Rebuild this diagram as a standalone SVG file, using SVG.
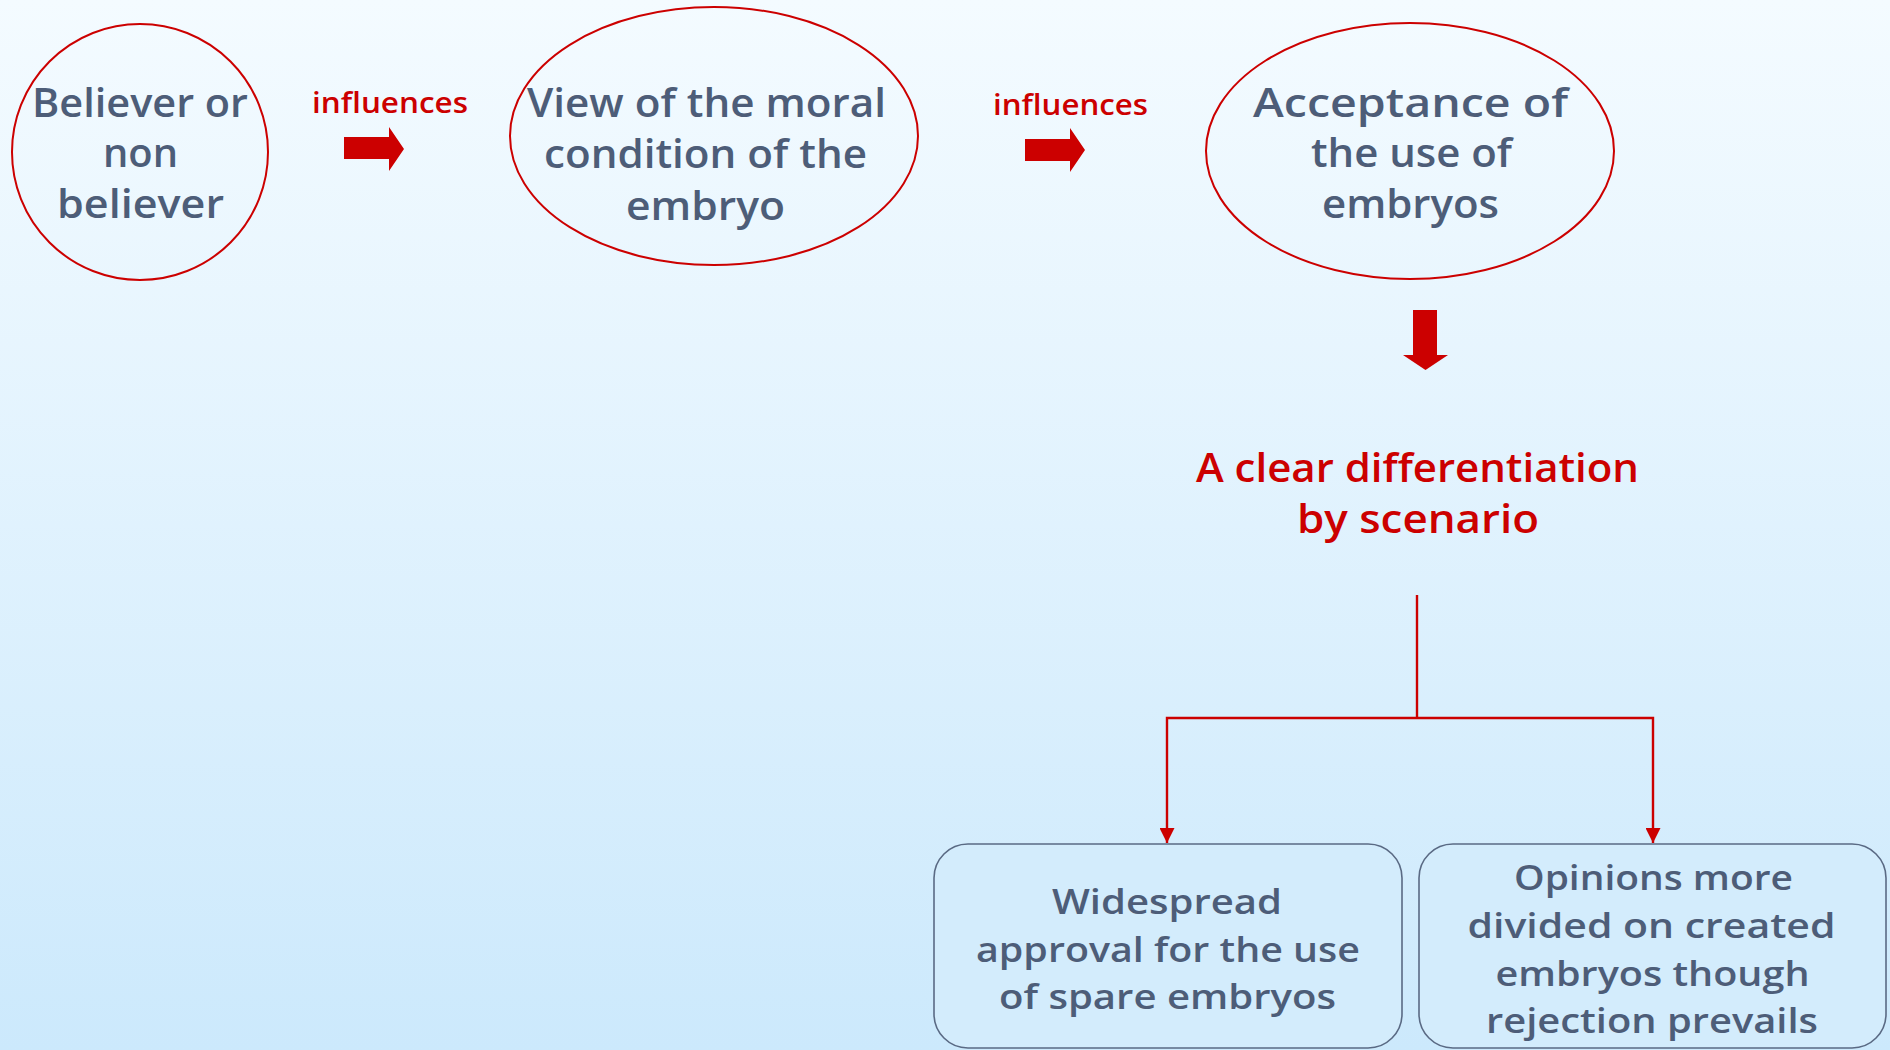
<svg xmlns="http://www.w3.org/2000/svg" width="1890" height="1050" viewBox="0 0 1890 1050">
<defs>
<linearGradient id="bg" x1="0" y1="0" x2="0" y2="1">
<stop offset="0" stop-color="#f4fbff"/>
<stop offset="1" stop-color="#cce9fc"/>
</linearGradient>
<marker id="tri" markerWidth="15" markerHeight="15" viewBox="0 0 15 15" refX="15" refY="7.5" orient="auto" markerUnits="userSpaceOnUse">
<path d="M0,0 L15,7.5 L0,15 Z" fill="#cc0000"/>
</marker>
</defs>
<style>
.ell{fill:none;stroke:#cc0000;stroke-width:2}
.nt{font-family:"Open Sans","Liberation Sans",Arial,sans-serif;font-weight:600;font-size:40px;fill:#4d5d78;text-anchor:middle}
.bt{font-family:"Open Sans","Liberation Sans",Arial,sans-serif;font-weight:600;font-size:35px;fill:#4d5d78;text-anchor:middle}
.rt{font-family:"Open Sans","Liberation Sans",Arial,sans-serif;font-weight:600;fill:#cc0000;text-anchor:middle}
.box{fill:#d3ecfc;stroke:#5a6a84;stroke-width:1.6}
.ln{fill:none;stroke:#cc0000;stroke-width:2.4}
.blk{fill:#cc0000}
</style>
<rect x="0" y="0" width="1890" height="1050" fill="url(#bg)"/>

<g id="believer">
<ellipse class="ell" cx="140" cy="152" rx="128" ry="128"/>
<text class="nt" x="140" y="117" textLength="216" lengthAdjust="spacingAndGlyphs">Believer or</text>
<text class="nt" x="140.5" y="167" textLength="75" lengthAdjust="spacingAndGlyphs">non</text>
<text class="nt" x="140.5" y="218" textLength="167" lengthAdjust="spacingAndGlyphs">believer</text>
</g>

<g id="moral-view">
<ellipse class="ell" cx="714" cy="136" rx="204" ry="129"/>
<text class="nt" x="706.5" y="117" textLength="359" lengthAdjust="spacingAndGlyphs">View of the moral</text>
<text class="nt" x="705.5" y="168" textLength="323" lengthAdjust="spacingAndGlyphs">condition of the</text>
<text class="nt" x="705.5" y="220" textLength="159" lengthAdjust="spacingAndGlyphs">embryo</text>
</g>

<g id="acceptance">
<ellipse class="ell" cx="1410" cy="151" rx="204" ry="128"/>
<text class="nt" x="1410.5" y="117" textLength="315" lengthAdjust="spacingAndGlyphs">Acceptance of</text>
<text class="nt" x="1411.5" y="167" textLength="201" lengthAdjust="spacingAndGlyphs">the use of</text>
<text class="nt" x="1410.5" y="218" textLength="177" lengthAdjust="spacingAndGlyphs">embryos</text>
</g>

<g id="differentiation">
<text class="rt" x="1417.5" y="482" font-size="40" textLength="443" lengthAdjust="spacingAndGlyphs">A clear differentiation</text>
<text class="rt" x="1418" y="533" font-size="40" textLength="242" lengthAdjust="spacingAndGlyphs">by scenario</text>
</g>

<g id="spare">
<rect class="box" x="934" y="844" width="468" height="204" rx="34" ry="34"/>
<text class="bt" x="1167" y="914" textLength="230" lengthAdjust="spacingAndGlyphs">Widespread</text>
<text class="bt" x="1168" y="962" textLength="384" lengthAdjust="spacingAndGlyphs">approval for the use</text>
<text class="bt" x="1167.5" y="1009" textLength="337" lengthAdjust="spacingAndGlyphs">of spare embryos</text>
</g>

<g id="created">
<rect class="box" x="1419" y="844" width="467" height="204" rx="34" ry="34"/>
<text class="bt" x="1653.5" y="890" textLength="279" lengthAdjust="spacingAndGlyphs">Opinions more</text>
<text class="bt" x="1651.5" y="938" textLength="368" lengthAdjust="spacingAndGlyphs">divided on created</text>
<text class="bt" x="1652.5" y="986" textLength="314" lengthAdjust="spacingAndGlyphs">embryos though</text>
<text class="bt" x="1652" y="1033" textLength="332" lengthAdjust="spacingAndGlyphs">rejection prevails</text>
</g>

<g id="connectors">
<text class="rt" x="390" y="113" font-size="29" textLength="156" lengthAdjust="spacingAndGlyphs">influences</text>
<path class="blk" d="M344,137 H389 V127 L404,149 L389,171 V159 H344 Z"/>
<text class="rt" x="1070.5" y="115" font-size="29" textLength="155" lengthAdjust="spacingAndGlyphs">influences</text>
<path class="blk" d="M1025,139 H1070 V128 L1085,150 L1070,172 V161 H1025 Z"/>
<path class="blk" d="M1413,310 H1437 V355 H1448 L1425.5,370 L1403,355 H1413 Z"/>
<path class="ln" d="M1417,595 V718"/>
<path class="ln" d="M1417,718 H1167 V843" marker-end="url(#tri)"/>
<path class="ln" d="M1417,718 H1653 V843" marker-end="url(#tri)"/>
</g>
</svg>
